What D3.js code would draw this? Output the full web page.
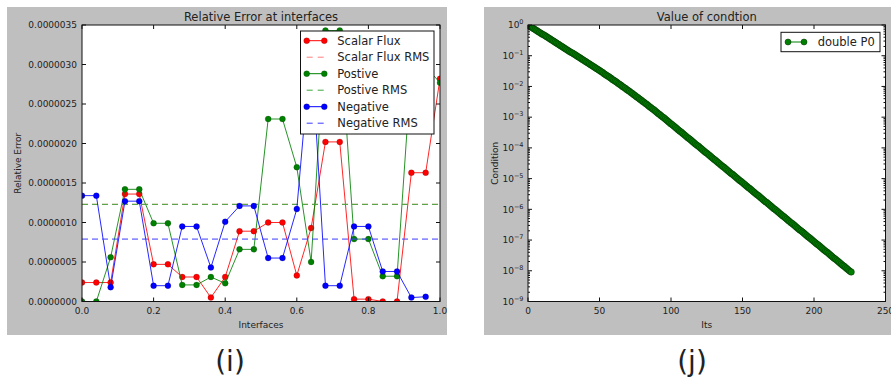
<!DOCTYPE html>
<html>
<head>
<meta charset="utf-8">
<script src="https://cdn.jsdelivr.net/npm/d3@7"></script>
<style>
  body { margin: 0; background: #fff; }
  svg { display: block; }
  text { font-family: "DejaVu Sans", sans-serif; fill: #222; }
</style>
</head>
<body>
<svg id="chart" width="891" height="381"></svg>
<script>
// ---- Relative error at interfaces ----
const interfaces = [0.00, 0.04, 0.08, 0.12, 0.16, 0.20, 0.24, 0.28, 0.32, 0.36, 0.40, 0.44, 0.48,
                    0.52, 0.56, 0.60, 0.64, 0.68, 0.72, 0.76, 0.80, 0.84, 0.88, 0.92, 0.96, 1.00];
const scalarFlux = [0.24, 0.24, 0.24, 1.36, 1.36, 0.47, 0.47, 0.31, 0.31, 0.05, 0.31, 0.89, 0.89,
                    1.00, 1.00, 0.33, 0.93, 2.02, 2.02, 0.03, 0.03, 0.00, 0.00, 1.63, 1.63, 2.82];
const positive   = [0.00, 0.00, 0.56, 1.42, 1.42, 0.99, 0.99, 0.21, 0.21, 0.31, 0.23, 0.66, 0.66,
                    2.31, 2.31, 1.70, 0.50, 3.43, 3.43, 0.79, 0.79, 0.32, 0.32, 2.97, 2.97, 2.77];
const negative   = [1.34, 1.34, 0.18, 1.27, 1.27, 0.20, 0.20, 0.95, 0.95, 0.43, 1.01, 1.21, 1.21,
                    0.55, 0.55, 1.17, 3.25, 0.20, 0.20, 0.95, 0.95, 0.38, 0.38, 0.05, 0.06];
const scalarFluxRms = 1.23;   // values in units of 1e-6
const positiveRms   = 1.23;
const negativeRms   = 0.79;
const errorTicks = [0, 0.5, 1.0, 1.5, 2.0, 2.5, 3.0, 3.5];
const interfaceTicks = [0, 0.2, 0.4, 0.6, 0.8, 1.0];

// ---- Value of condition (log10 of value per iteration) ----
const conditionExp = [
  0.00,-0.03,-0.06,-0.09,-0.12,-0.15,-0.18,-0.21,-0.24,-0.27,
 -0.30,-0.32,-0.35,-0.38,-0.41,-0.44,-0.47,-0.50,-0.53,-0.56,
 -0.59,-0.62,-0.65,-0.68,-0.71,-0.74,-0.77,-0.80,-0.83,-0.86,
 -0.89,-0.91,-0.94,-0.97,-1.00,-1.03,-1.06,-1.09,-1.12,-1.15,
 -1.18,-1.21,-1.24,-1.27,-1.30,-1.33,-1.36,-1.39,-1.42,-1.45,
 -1.48,-1.51,-1.54,-1.58,-1.61,-1.64,-1.67,-1.70,-1.73,-1.77,
 -1.80,-1.83,-1.86,-1.90,-1.93,-1.96,-2.00,-2.03,-2.06,-2.10,
 -2.13,-2.16,-2.20,-2.23,-2.27,-2.30,-2.34,-2.37,-2.41,-2.44,
 -2.48,-2.51,-2.55,-2.58,-2.62,-2.66,-2.69,-2.73,-2.76,-2.80,
 -2.84,-2.88,-2.91,-2.95,-2.99,-3.02,-3.06,-3.10,-3.14,-3.18,
 -3.22,-3.25,-3.29,-3.33,-3.37,-3.41,-3.45,-3.48,-3.52,-3.56,
 -3.60,-3.64,-3.68,-3.71,-3.75,-3.79,-3.83,-3.87,-3.91,-3.94,
 -3.98,-4.02,-4.06,-4.10,-4.14,-4.17,-4.21,-4.25,-4.29,-4.33,
 -4.37,-4.40,-4.44,-4.48,-4.52,-4.56,-4.60,-4.63,-4.67,-4.71,
 -4.75,-4.79,-4.83,-4.86,-4.90,-4.94,-4.98,-5.02,-5.06,-5.09,
 -5.13,-5.17,-5.21,-5.25,-5.29,-5.32,-5.36,-5.40,-5.44,-5.48,
 -5.52,-5.55,-5.59,-5.63,-5.67,-5.71,-5.75,-5.78,-5.82,-5.86,
 -5.90,-5.94,-5.98,-6.01,-6.05,-6.09,-6.13,-6.17,-6.21,-6.24,
 -6.28,-6.32,-6.36,-6.40,-6.44,-6.47,-6.51,-6.55,-6.59,-6.63,
 -6.67,-6.70,-6.74,-6.78,-6.82,-6.86,-6.90,-6.93,-6.97,-7.01,
 -7.05,-7.09,-7.13,-7.16,-7.20,-7.24,-7.28,-7.32,-7.36,-7.39,
 -7.43,-7.47,-7.51,-7.55,-7.59,-7.62,-7.66,-7.70,-7.74,-7.78,
 -7.82,-7.85,-7.89,-7.93,-7.97,-8.01,-8.04
];
const itsTicks = [0, 50, 100, 150, 200, 250];
const conditionTickExp = [0, -1, -2, -3, -4, -5, -6, -7, -8, -9];

const svg = d3.select("#chart");
const RED = "#ff0000", GREEN = "#008000", BLUE = "#0000ff";

// Grey figure backgrounds
svg.append("rect").attr("x", 7).attr("y", 7).attr("width", 440).attr("height", 328).attr("fill", "#bfbfbf");
svg.append("rect").attr("x", 484).attr("y", 7).attr("width", 420).attr("height", 328).attr("fill", "#bfbfbf");

function frame(g, x0, y0, x1, y1, id) {
  g.append("rect").attr("x", x0).attr("y", y0).attr("width", x1 - x0).attr("height", y1 - y0)
    .attr("fill", "#fff");
  svg.append("clipPath").attr("id", id).append("rect")
    .attr("x", x0).attr("y", y0).attr("width", x1 - x0).attr("height", y1 - y0);
}
function border(g, x0, y0, x1, y1) {
  g.append("rect").attr("x", x0).attr("y", y0).attr("width", x1 - x0).attr("height", y1 - y0)
    .attr("fill", "none").attr("stroke", "#111").attr("stroke-width", 1);
}
function tickLines(g, positions, horizontal, a, b, len) {
  // horizontal: ticks on bottom/top spines at x positions; otherwise on left/right spines
  positions.forEach(p => {
    if (horizontal) {
      g.append("line").attr("x1", p).attr("x2", p).attr("y1", b).attr("y2", b - len).attr("stroke", "#111");
      g.append("line").attr("x1", p).attr("x2", p).attr("y1", a).attr("y2", a + len).attr("stroke", "#111");
    } else {
      g.append("line").attr("y1", p).attr("y2", p).attr("x1", a).attr("x2", a + len).attr("stroke", "#111");
      g.append("line").attr("y1", p).attr("y2", p).attr("x1", b).attr("x2", b - len).attr("stroke", "#111");
    }
  });
}

// ================= Left chart =================
{
  const L = 82, R = 440, T = 25, B = 301.5;
  const g = svg.append("g");
  frame(g, L, T, R, B, "clipL");
  const x = d3.scaleLinear().domain([0, 1]).range([L, R]);
  const y = d3.scaleLinear().domain([0, 3.5]).range([B, T]);

  const plot = g.append("g").attr("clip-path", "url(#clipL)");
  const line = d3.line().x(d => x(d[0])).y(d => y(d[1]));

  function series(vals, color) {
    const pts = vals.map((v, i) => [interfaces[i], v]);
    plot.append("path").attr("d", line(pts)).attr("fill", "none")
      .attr("stroke", color).attr("stroke-width", 1).attr("stroke-opacity", 0.85);
    plot.selectAll(null).data(pts).enter().append("circle")
      .attr("cx", d => x(d[0])).attr("cy", d => y(d[1])).attr("r", 3)
      .attr("fill", color).attr("stroke", "#000").attr("stroke-width", 0.4).attr("stroke-opacity", 0.4);
  }
  function rms(v, color) {
    plot.append("line").attr("x1", L).attr("x2", R).attr("y1", y(v)).attr("y2", y(v))
      .attr("stroke", color).attr("stroke-width", 1).attr("stroke-dasharray", "6,4");
  }
  series(scalarFlux, RED);
  rms(scalarFluxRms, "#ff8080");
  series(positive, GREEN);
  rms(positiveRms, "#3aa83a");
  series(negative, BLUE);
  rms(negativeRms, "#3b3bff");

  border(g, L, T, R, B);
  tickLines(g, interfaceTicks.map(x), true, T, B, 4);
  tickLines(g, errorTicks.map(y), false, L, R, 4);

  interfaceTicks.forEach(t => {
    g.append("text").attr("x", x(t)).attr("y", 313.5).attr("text-anchor", "middle")
      .attr("font-size", 9).text(t.toFixed(1));
  });
  errorTicks.forEach(t => {
    g.append("text").attr("x", 77).attr("y", y(t) + 3.3).attr("text-anchor", "end")
      .attr("font-size", 9).text((t * 1e-6).toFixed(7));
  });
  g.append("text").attr("x", (L + R) / 2).attr("y", 21).attr("text-anchor", "middle")
    .attr("font-size", 11.5).text("Relative Error at interfaces");
  g.append("text").attr("x", (L + R) / 2).attr("y", 327.5).attr("text-anchor", "middle")
    .attr("font-size", 9).text("Interfaces");
  g.append("text").attr("transform", `translate(20.5,${(T + B) / 2}) rotate(-90)`)
    .attr("text-anchor", "middle").attr("font-size", 9).text("Relative Error");

  // Legend
  const lg = g.append("g");
  lg.append("rect").attr("x", 300.5).attr("y", 31).attr("width", 133.5).attr("height", 103)
    .attr("fill", "#fff").attr("stroke", "#111").attr("stroke-width", 1);
  const entries = [
    { label: "Scalar Flux", color: RED, marker: true },
    { label: "Scalar Flux RMS", color: "#ff8080", marker: false },
    { label: "Postive", color: GREEN, marker: true },
    { label: "Postive RMS", color: "#3aa83a", marker: false },
    { label: "Negative", color: BLUE, marker: true },
    { label: "Negative RMS", color: "#3b3bff", marker: false }
  ];
  entries.forEach((e, i) => {
    const cy = 40.7 + i * 16.5;
    const ln = lg.append("line").attr("x1", 306.7).attr("x2", 324.3).attr("y1", cy).attr("y2", cy)
      .attr("stroke", e.color).attr("stroke-width", 1);
    if (e.marker) {
      [306.7, 324.3].forEach(cx => lg.append("circle").attr("cx", cx).attr("cy", cy).attr("r", 3)
        .attr("fill", e.color).attr("stroke", "#000").attr("stroke-width", 0.4).attr("stroke-opacity", 0.4));
    } else {
      ln.attr("stroke-dasharray", "6,5");
    }
    lg.append("text").attr("x", 337.3).attr("y", cy + 4.2).attr("font-size", 11.5).text(e.label);
  });
}

// ================= Right chart =================
{
  const L = 528, R = 885.5, T = 25, B = 301.5;
  const g = svg.append("g");
  frame(g, L, T, R, B, "clipR");
  const x = d3.scaleLinear().domain([0, 250]).range([L, R]);
  const y = d3.scaleLog().domain([1e-9, 1]).range([B, T]);

  const pts = conditionExp.map((e, i) => [i, Math.pow(10, e)]);
  const plot = g.append("g").attr("clip-path", "url(#clipR)");
  plot.append("path").attr("d", d3.line().x(d => x(d[0])).y(d => y(d[1]))(pts))
    .attr("fill", "none").attr("stroke", GREEN).attr("stroke-width", 1);
  plot.selectAll(null).data(pts).enter().append("circle")
    .attr("cx", d => x(d[0])).attr("cy", d => y(d[1])).attr("r", 3.2)
    .attr("fill", GREEN).attr("stroke", "#002800").attr("stroke-width", 0.5);

  border(g, L, T, R, B);
  tickLines(g, itsTicks.map(x), true, T, B, 4);
  tickLines(g, conditionTickExp.map(e => y(Math.pow(10, e))), false, L, R, 4);
  const minor = [];
  conditionTickExp.slice(0, -1).forEach(e => {
    for (let m = 2; m <= 9; m++) minor.push(y(m * Math.pow(10, e - 1)));
  });
  tickLines(g, minor, false, L, R, 2);

  itsTicks.forEach(t => {
    g.append("text").attr("x", x(t)).attr("y", 313.5).attr("text-anchor", "middle")
      .attr("font-size", 9).text(t);
  });
  conditionTickExp.forEach(e => {
    const t = g.append("text").attr("x", 523.5).attr("y", y(Math.pow(10, e)) + 3.3)
      .attr("text-anchor", "end").attr("font-size", 9);
    t.append("tspan").text("10");
    t.append("tspan").attr("dy", -4).attr("font-size", 6.5).text(e === 0 ? "0" : "\u2212" + Math.abs(e));
  });
  g.append("text").attr("x", (L + R) / 2).attr("y", 21).attr("text-anchor", "middle")
    .attr("font-size", 11.5).text("Value of condtion");
  g.append("text").attr("x", (L + R) / 2).attr("y", 327.5).attr("text-anchor", "middle")
    .attr("font-size", 9).text("Its");
  g.append("text").attr("transform", `translate(497.8,${(T + B) / 2}) rotate(-90)`)
    .attr("text-anchor", "middle").attr("font-size", 9).text("Condition");

  // Legend
  g.append("rect").attr("x", 781).attr("y", 32.3).attr("width", 99).attr("height", 19.4)
    .attr("fill", "#fff").attr("stroke", "#111").attr("stroke-width", 1);
  g.append("line").attr("x1", 788).attr("x2", 804).attr("y1", 42).attr("y2", 42)
    .attr("stroke", GREEN).attr("stroke-width", 1);
  [788, 804].forEach(cx => g.append("circle").attr("cx", cx).attr("cy", 42).attr("r", 3)
    .attr("fill", GREEN).attr("stroke", "#002800").attr("stroke-width", 0.5));
  g.append("text").attr("x", 817.7).attr("y", 46.2).attr("font-size", 11.5).text("double P0");
}

// Panel captions
svg.append("text").attr("x", 230).attr("y", 371).attr("text-anchor", "middle")
  .attr("font-family", "Open Sans, sans-serif").attr("font-size", 28).text("(i)");
svg.append("text").attr("x", 692).attr("y", 371).attr("text-anchor", "middle")
  .attr("font-family", "Open Sans, sans-serif").attr("font-size", 28).text("(j)");
</script>
</body>
</html>
